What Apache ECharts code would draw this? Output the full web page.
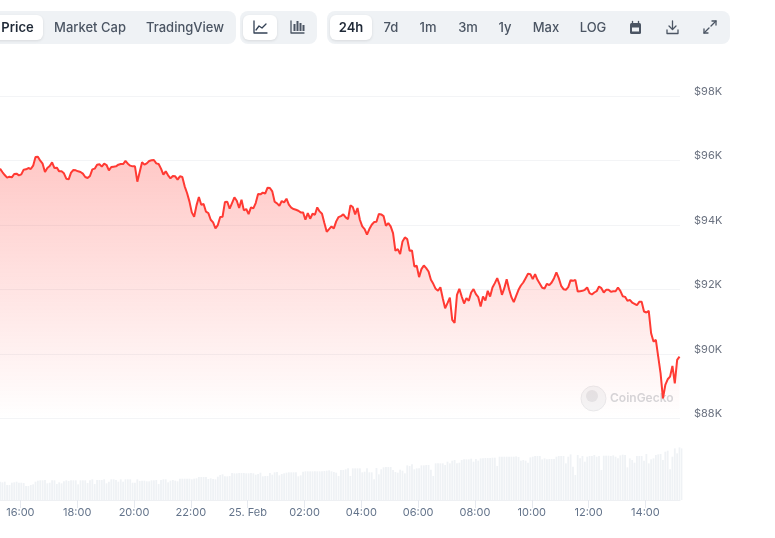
<!DOCTYPE html>
<html><head><meta charset="utf-8">
<script src="https://cdn.jsdelivr.net/npm/echarts@6/dist/echarts.min.js"></script>
<style>html,body{margin:0;padding:0;background:#fff}#c{width:775px;height:538px}</style>
</head><body><div id="c"></div>
<script>
const prices = [95747,95643,95550,95467,95498,95477,95581,95591,95540,95571,95716,95726,95767,95736,95840,96109,96119,95995,95902,95643,95767,95829,95943,95767,95778,95664,95664,95602,95436,95415,95622,95705,95695,95664,95643,95591,95488,95457,95519,95726,95747,95871,95881,95809,95902,95860,95695,95798,95809,95819,95871,95891,95891,95985,95902,95840,95819,95819,95343,95643,95943,95871,95912,95985,96005,96016,95912,95891,95747,95560,95664,95540,95446,95519,95509,95405,95509,95488,95198,94991,94732,94391,94256,94608,94867,94629,94649,94411,94370,94163,94080,93894,93998,94246,94256,94712,94722,94505,94680,94857,94753,
94526,94785,94453,94495,94339,94546,94515,94681,94960,94950,95002,94971,95157,95147,95043,94722,94670,94598,94743,94702,94816,94629,94536,94495,94474,94443,94391,94391,94163,94370,94195,94350,94319,94546,94422,94350,94060,93791,93874,93957,93894,94112,94246,94277,94329,94236,94184,94609,94557,94329,94526,94163,93957,93874,93698,93874,94008,94091,94101,94339,94329,94277,93977,94060,93957,93749,93201,93253,93097,93491,93615,93563,93201,93211,92714,92735,92383,92632,92746,92663,92559,92300,92176,92021,91959,
92072,91731,91420,91576,91751,91058,90965,91834,92021,91783,91565,91731,91648,91907,92010,91855,91762,91472,91783,91658,91958,91783,92062,92197,92352,92145,91834,92041,92321,92010,91762,91607,91803,91990,92124,92217,92352,92486,92476,92321,92476,92300,92176,92052,92031,92176,92134,92217,92352,92528,92352,92114,92010,91990,92072,92290,92269,92300,91938,91948,91958,91990,92062,91886,91845,91907,91948,92093,92041,91907,91990,91990,91927,91948,91948,92062,91958,91793,91772,91648,91679,91596,91555,91513,91617,91617,91317,91286,91337,90644,90385,90437,89920,89402,88626,89040,89216,89299,89630,89091,89816,89920];
const volumes = [55,53,55,45,45,52,53,55,52,52,51,42,42,45,47,55,58,59,59,60,50,52,59,59,48,53,50,56,59,57,59,59,59,47,59,59,59,51,59,62,48,60,60,60,62,50,55,62,62,60,55,62,55,62,62,62,52,52,62,57,58,58,56,56,59,59,60,48,60,62,62,53,58,60,58,56,64,64,64,64,64,62,64,65,69,69,69,69,63,65,63,62,70,75,77,71,71,72,81,80,80,81,81,81,80,80,81,80,76,78,82,71,72,72,81,76,83,84,74,78,80,82,83,83,83,83,71,74,85,86,86,86,86,86,86,86,86,87,88,89,86,84,82,72,90,90,92,
95,72,95,95,95,95,83,85,95,83,83,62,96,77,92,98,99,99,99,90,84,82,91,88,80,104,102,107,92,95,95,104,104,105,105,91,72,110,110,110,110,105,115,110,118,120,110,112,120,122,122,122,124,115,123,118,125,125,126,126,126,127,127,102,130,130,130,130,130,130,130,131,129,118,120,118,112,128,130,132,132,132,122,125,122,123,123,123,130,132,132,132,110,130,137,100,75,135,125,132,115,130,132,132,135,130,132,90,133,133,133,132,134,130,125,134,136,135,98,125,120,112,132,132,132,118,138,110,122,125,135,137,138,120,145,148,92,130,155,140,158,155];
const tabsMain = ['Price','Market Cap','TradingView'];
const tabsRange = ['24h','7d','1m','3m','1y','Max','LOG'];
const priceTicks = {min:88000,max:98000,step:2000};

const HOUR = 3600000;
const STEP = 5*60000;
const axisStart = new Date(2025,1,24,15,17).getTime();
const axisEnd = new Date(2025,1,25,15,13).getTime();
const firstTick = new Date(2025,1,24,16,0).getTime();
const timeTicks = Array.from({length:12},(_,i)=>firstTick+i*2*HOUR);
const priceData = prices.map((p,i)=>[axisStart+i*STEP,p]);
const volData = volumes.map((v,i)=>[axisStart+i*STEP,v]);

const FONT='Inter';
function pill(x,y,w,h,fill,r,shadow){return {type:'rect',silent:true,shape:{x,y,width:w,height:h,r},style:Object.assign({fill},shadow?{shadowBlur:3,shadowColor:'rgba(0,0,0,0.10)',shadowOffsetY:1}:{})};}
function label(text,cx,active){return {type:'text',silent:true,style:{text,x:cx,y:28.5,align:'center',verticalAlign:'middle',font:`${active?600:500} 13px ${FONT}`,fill:active?'#1f2937':'#4b5563'}};}
function stroke(shape,type,color){return {type,silent:true,shape,style:{fill:'none',stroke:color||'#4b5563',lineWidth:1.3,lineCap:'round',lineJoin:'round'}};}
const mainX=[17.5,90,185], rangeX=[351,391,428,468,505,546,593];
const g=[
 pill(-10,11,246,33,'#eff2f5',8),pill(240,11,77,33,'#eff2f5',8),pill(327,11,403,33,'#eff2f5',8),
 pill(-10,15,53,25,'#fff',6,true),pill(243,15,34,25,'#fff',6,true),pill(330,15,42,25,'#fff',6,true),
 ...tabsMain.map((t,i)=>label(t,mainX[i],i===0)),
 ...tabsRange.map((t,i)=>label(t,rangeX[i],i===0)),
 // line-chart icon
 stroke({points:[[254,21],[254,33],[267,33]]},'polyline','#334155'),
 stroke({points:[[256,30],[259,26],[262,28],[266,24]]},'polyline','#334155'),
 // candlestick icon
 stroke({points:[[291,21],[291,33],[304,33]]},'polyline','#4b5563'),
 {type:'rect',silent:true,shape:{x:293.5,y:24,width:2,height:7},style:{fill:'#4b5563'}},
 {type:'rect',silent:true,shape:{x:296.5,y:21,width:2,height:10},style:{fill:'#4b5563'}},
 {type:'rect',silent:true,shape:{x:299.5,y:23,width:2,height:8},style:{fill:'#4b5563'}},
 {type:'rect',silent:true,shape:{x:302.5,y:25,width:2,height:6},style:{fill:'#4b5563'}},
 // calendar icon
 {type:'rect',silent:true,shape:{x:630,y:23,width:11,height:11,r:1.5},style:{fill:'#4b5563'}},
 {type:'rect',silent:true,shape:{x:632,y:27.5,width:7,height:4},style:{fill:'#eff2f5'}},
 stroke({x1:632.5,y1:21.5,x2:632.5,y2:23.5},'line'),stroke({x1:638.5,y1:21.5,x2:638.5,y2:23.5},'line'),
 // download icon
 stroke({x1:672.5,y1:21,x2:672.5,y2:29},'line'),
 stroke({points:[[669,26],[672.5,29.5],[676,26]]},'polyline'),
 stroke({points:[[667,30],[667,33.5],[678,33.5],[678,30]]},'polyline'),
 // expand icon
 stroke({x1:704,y1:33,x2:709,y2:28},'line'),stroke({x1:711,y1:26,x2:716,y2:21},'line'),
 stroke({points:[[704,29],[704,33],[708,33]]},'polyline'),
 stroke({points:[[712,21],[716,21],[716,25]]},'polyline'),
 // watermark
 {type:'circle',silent:true,z:-1,shape:{cx:593.5,cy:398.5,r:12.5},style:{fill:'#f4f5f6',stroke:'#e8e9eb',lineWidth:1}},
 {type:'circle',silent:true,z:-1,shape:{cx:592,cy:396,r:6},style:{fill:'#e4e5e7'}},
 {type:'text',silent:true,z:-1,style:{text:'CoinGecko',x:610,y:398,verticalAlign:'middle',font:`600 12px ${FONT}`,fill:'#d5d7da'}}
];

const chart=echarts.init(document.getElementById('c'),null,{renderer:'canvas'});
chart.setOption({
 animation:false,
 grid:[{left:0,top:96,width:680,height:322.5},{left:0,top:446.7,width:680,height:53.3}],
 xAxis:[
  {type:'value',gridIndex:0,min:axisStart,max:axisEnd,show:false,splitLine:{show:false}},
  {type:'value',gridIndex:1,min:axisStart,max:axisEnd,
   axisLine:{show:true,lineStyle:{color:'#eef0f3',width:1}},
   axisTick:{show:true,length:8,customValues:timeTicks,lineStyle:{color:'#e6e9ef'}},
   splitLine:{show:false},
   axisLabel:{show:true,margin:7,customValues:timeTicks,color:'#64748b',fontFamily:FONT,fontSize:11,
    formatter:v=>{const d=new Date(v);return d.getHours()===0?'25. Feb':String(d.getHours()).padStart(2,'0')+':00';}}}
 ],
 yAxis:[
  {type:'value',gridIndex:0,position:'right',min:priceTicks.min,max:priceTicks.max,interval:priceTicks.step,
   axisLine:{show:false},axisTick:{show:false},
   splitLine:{lineStyle:{color:'#f3f4f6',width:1}},
   axisLabel:{margin:14,verticalAlign:'bottom',padding:[0,0,-1,0],color:'#6b7280',fontFamily:FONT,fontSize:11,formatter:v=>'$'+v/1000+'K'}},
  {type:'value',gridIndex:1,min:0,max:160,show:false}
 ],
 series:[
  {type:'line',xAxisIndex:0,yAxisIndex:0,data:priceData,showSymbol:false,smooth:false,z:3,
   lineStyle:{color:'#ff3a33',width:2},
   areaStyle:{opacity:1,color:new echarts.graphic.LinearGradient(0,0,0,1,[{offset:0,color:'rgba(255,58,51,0.28)'},{offset:1,color:'rgba(255,58,51,0)'}])}},
  {type:'bar',xAxisIndex:1,yAxisIndex:1,data:volData,barWidth:1.8,itemStyle:{color:'#eff2f5'}}
 ],
 graphic:g
});
</script></body></html>
